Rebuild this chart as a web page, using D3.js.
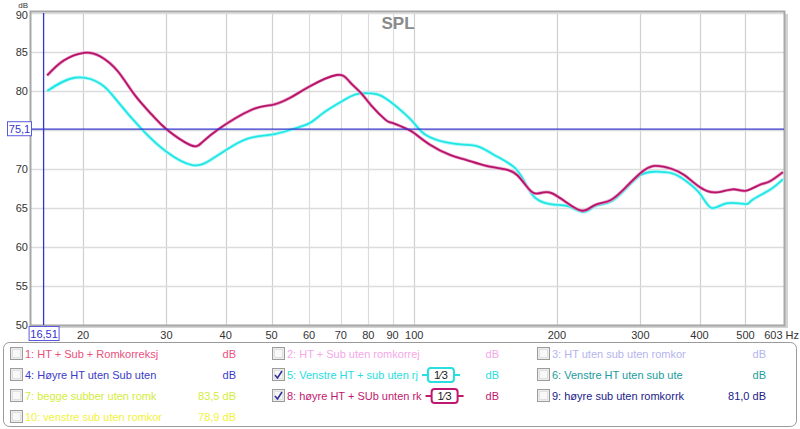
<!DOCTYPE html>
<html><head><meta charset="utf-8">
<script src="https://cdn.jsdelivr.net/npm/d3@7"></script>
<style>body{margin:0;background:#fff}svg{display:block;font-family:Arial,"Liberation Sans",sans-serif}</style>
</head><body><svg id="c" width="800" height="429"></svg>
<script>
// ---- data ----
const freqTicks = [20,30,40,50,60,70,80,90,100,200,300,400,500];
const dbTicks = [50,55,60,65,70,75,80,85,90];
const dbLabels = [50,55,60,65,70,80,85,90]; // 75 is covered by the cursor label
const series8Freq = [16.8,18.2,20.1,21.8,23.7,25.7,28,30,33.6,35.5,38.6,45.4,50,54.6,60,68.6,73,77.3,81,87,90,96.7,100,108,119,129,142,157,165,172,179,187.5,195,208.5,226,241,259.5,280,300,321,350,372,400,432,470,500,535,562,600];
const series8Db   = [82.0,83.9,84.9,84.4,82.5,79.5,76.9,75.1,73.1,73.3,75.1,77.6,78.2,79.1,80.55,82.05,81.2,79.7,78.2,76.3,75.9,75.1,74.6,73.1,71.8,71.15,70.4,69.9,69.2,67.9,66.9,67.0,66.9,65.8,64.65,65.4,66.0,67.7,69.45,70.4,70.0,69.2,67.7,67.0,67.4,67.2,67.95,68.4,69.6];
const series5Freq = [16.8,19.2,21.8,23.7,26.6,30,34,37,40,44.5,50,54.6,60,64,70,75.5,81,85,90,95,100,105.6,117,129,137.6,149.5,162,170,179,190,200,212,227.8,241,259.5,280,300,321,350,372,400,424,456,500,516,562,600];
const series5Db   = [80.0,81.7,80.9,78.6,75.1,72.2,70.5,71.1,72.4,73.9,74.4,75.0,75.85,77.1,78.6,79.6,79.7,79.4,78.4,77.2,75.85,74.4,73.4,73.1,72.8,71.6,70.3,68.6,66.45,65.6,65.4,65.2,64.5,65.25,65.8,67.5,69.2,69.65,69.45,68.6,66.9,65.0,65.6,65.5,66.0,67.3,68.7];
const cursorFreq = 16.51, cursorDb = 75.1;
const legendNames = ["1: HT + Sub + Romkorreksj","2: HT + Sub uten romkorrej","3: HT uten sub uten romkor","4: Høyre HT uten Sub uten","5: Venstre HT + sub uten rj","6: Venstre HT uten sub ute","7: begge subber uten romk","8: høyre HT + SUb unten rk","9: høyre sub uten romkorrk","10: venstre sub uten romkor"];
const legendValues = ["dB","dB","dB","dB","dB","dB","83,5 dB","dB","81,0 dB","78,9 dB"];
const legendColors = ["#e8507c","#f4a8e8","#b4b4ee","#3a3ac8","#28dede","#209c9c","#d4ec3c","#c0186e","#202088","#f2f23a"];
const legendChecked = [false,false,false,false,true,false,false,true,false,false];

// ---- layout ----
const svg = d3.select("#c");
const L=31, R=784, T=13, B=325;
const x = d3.scaleLog().domain([15.53,603]).range([L,R]);
const y = d3.scaleLinear().domain([50,90]).range([B,T]);

// frame shadow
svg.append("rect").attr("x",L+2).attr("y",T+1).attr("width",R-L+2).attr("height",B-T+2).attr("fill","#d4d4d4");
svg.append("rect").attr("x",L).attr("y",T-1).attr("width",R-L).attr("height",B-T+1).attr("fill","#fff");

// grid
svg.append("g").selectAll("line").data(freqTicks).join("line")
  .attr("x1",d=>Math.round(x(d))+0.5).attr("x2",d=>Math.round(x(d))+0.5).attr("y1",T).attr("y2",B)
  .attr("stroke",d=>[20,30,40,50,100,200,300,400,500].includes(d)?"#cfcfcf":"#dcdcdc").attr("stroke-width",1.2);
svg.append("g").selectAll("line").data(dbTicks).join("line")
  .attr("x1",L).attr("x2",R).attr("y1",d=>Math.round(y(d))+0.5).attr("y2",d=>Math.round(y(d))+0.5)
  .attr("stroke","#dcdcdc").attr("stroke-width",1.5);
// frame border
svg.append("rect").attr("x",L-0.5).attr("y",T-1.5).attr("width",R-L+1).attr("height",B-T+2)
  .attr("fill","none").attr("stroke","#a8a8a8").attr("stroke-width",2);

// axes labels
svg.append("g").selectAll("text").data(dbLabels).join("text")
  .attr("x",28).attr("y",d=>d===90?y(d)+6:y(d)+4).attr("text-anchor","end").attr("font-size",11).attr("fill","#333").text(d=>d);
svg.append("text").attr("x",28).attr("y",7.5).attr("text-anchor","end").attr("font-size",8).attr("fill","#333").text("dB");
svg.append("g").selectAll("text").data(freqTicks).join("text")
  .attr("x",d=>x(d)).attr("y",339).attr("text-anchor","middle").attr("font-size",11).attr("fill","#333").text(d=>d);
svg.append("text").attr("x",799).attr("y",339).attr("text-anchor","end").attr("font-size",11).attr("fill","#333").text("603 Hz");
svg.append("text").attr("x",398).attr("y",29).attr("text-anchor","middle").attr("font-size",17).attr("font-weight","bold").attr("fill","#8a8a8a").text("SPL");

// curves
const line = d3.line().x(d=>x(d[0])).y(d=>y(d[1])).curve(d3.curveNatural);
const s5 = series5Freq.map((f,i)=>[f,series5Db[i]]);
const s8 = series8Freq.map((f,i)=>[f,series8Db[i]]);
svg.append("path").datum(s5).attr("d",line).attr("fill","none").attr("stroke","#b0f8f8").attr("stroke-width",3.5);
svg.append("path").datum(s5).attr("d",line).attr("fill","none").attr("stroke","#22e6e6").attr("stroke-width",1.8);
svg.append("path").datum(s8).attr("d",line).attr("fill","none").attr("stroke","#e8a0c8").attr("stroke-width",3.2);
svg.append("path").datum(s8).attr("d",line).attr("fill","none").attr("stroke","#b8146a").attr("stroke-width",1.8);

// cursors
const blue="#3434d0";
svg.append("line").attr("x1",L).attr("x2",R).attr("y1",y(cursorDb)).attr("y2",y(cursorDb)).attr("stroke",blue).attr("stroke-width",1.3);
svg.append("line").attr("x1",x(cursorFreq)).attr("x2",x(cursorFreq)).attr("y1",T).attr("y2",B).attr("stroke",blue).attr("stroke-width",1.3);
svg.append("rect").attr("x",7.5).attr("y",y(cursorDb)-7.5).attr("width",24).attr("height",14).attr("fill","#fff").attr("stroke","#5a5ae0");
svg.append("text").attr("x",19.5).attr("y",y(cursorDb)+4).attr("text-anchor","middle").attr("font-size",11).attr("fill",blue).text("75,1");
svg.append("rect").attr("x",x(cursorFreq)-14.5).attr("y",326.5).attr("width",30).attr("height",14).attr("fill","#fff").attr("stroke","#5a5ae0");
svg.append("text").attr("x",x(cursorFreq)+0.5).attr("y",338).attr("text-anchor","middle").attr("font-size",11).attr("fill",blue).text("16,51");

// legend
svg.append("rect").attr("x",3.5).attr("y",342.5).attr("width",793).attr("height",84).attr("rx",6)
  .attr("fill","#fff").attr("stroke","#9a9a9a");
const colX=[10,272,537], valX=[236,499,766], rowY=[354,375,396,417];
legendNames.forEach((name,i)=>{
  const c=i%3, r=Math.floor(i/3);
  const g=svg.append("g").attr("transform",`translate(${colX[c]},${rowY[r]})`);
  g.append("rect").attr("x",0.5).attr("y",-6.5).attr("width",12).attr("height",12).attr("fill","#ececec").attr("stroke","#9c9c9c");
  g.append("rect").attr("x",2.5).attr("y",-4.5).attr("width",8).attr("height",8).attr("fill","#f8f8f8").attr("stroke","#e0e0e0");
  if(legendChecked[i]) g.append("path").attr("d","M3,0 L5.5,3 L10,-4").attr("fill","none").attr("stroke","#30309a").attr("stroke-width",1.6);
  const t=g.append("text").attr("x",15).attr("y",4).attr("font-size",11).attr("fill",legendColors[i]).text(name);
  g.append("text").attr("x",valX[c]-colX[c]).attr("y",4).attr("text-anchor","end").attr("font-size",11).attr("fill",legendColors[i]).text(legendValues[i]);
  if(legendChecked[i]){
    const w=t.node().getComputedTextLength();
    const bx=15+w+4;
    g.append("line").attr("x1",bx).attr("x2",bx+38).attr("y1",0).attr("y2",0).attr("stroke",legendColors[i]).attr("stroke-width",2);
    g.append("rect").attr("x",bx+6).attr("y",-7).attr("width",26).attr("height",14).attr("rx",3).attr("fill","#fff").attr("stroke",legendColors[i]).attr("stroke-width",2);
    g.append("text").attr("x",bx+19).attr("y",4).attr("text-anchor","middle").attr("font-size",11).attr("fill","#222").text("1⁄3");
  }
});
</script></body></html>
